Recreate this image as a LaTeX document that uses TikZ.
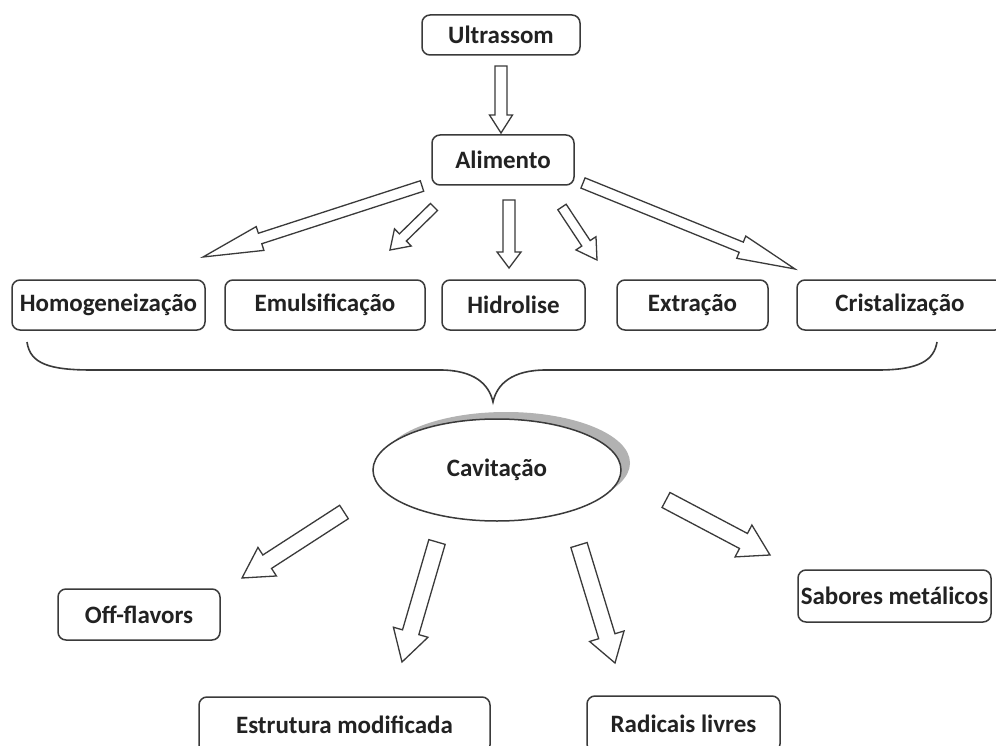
\documentclass[tikz,border=0pt]{standalone}
\usepackage{fontspec}
\setmainfont{Carlito}
\usetikzlibrary{calc,shadows,shapes.geometric}

\definecolor{ink}{HTML}{222222}
\definecolor{edge}{HTML}{3A3A3A}

\tikzset{
  % rounded label box
  tag/.style={draw=edge, line width=1.5pt, rounded corners=8pt, fill=white,
    text=ink, font=\fontsize{25}{30}\selectfont\bfseries, inner sep=0pt,
    minimum width=#1},
  % hollow block arrow: shaft half width / head half width / head length
  blockarrow/.style n args={3}{to path={
    ($(\tikztotarget)!#3!(\tikztostart)$) coordinate (bkH)
    ($(\tikztostart)!#1!90:(\tikztotarget)$)
    -- ($(bkH)!#1!90:(\tikztotarget)$)
    -- ($(bkH)!#2!90:(\tikztotarget)$)
    -- (\tikztotarget)
    -- ($(bkH)!#2!-90:(\tikztotarget)$)
    -- ($(bkH)!#1!-90:(\tikztotarget)$)
    -- ($(\tikztostart)!#1!-90:(\tikztotarget)$)
    -- cycle}},
  harrow/.style={draw=edge, fill=white, line width=1.3pt, line join=miter},
  bracepen/.style={draw=edge, line width=1.6pt},
}

\begin{document}
\begin{tikzpicture}[x=1pt, y=-1pt]
\clip (0,0) rectangle (996,746);
\fill[white] (0,0) rectangle (996,746);

% boxes
\node[tag=158, minimum height=40] (ultra) at (501,35) {Ultrassom};
\node[tag=142, minimum height=50] (alim) at (503,160) {Alimento};

\node[tag=193, minimum height=50] (homo)  at (108.5,305) {Homogeneização};
\node[tag=200, minimum height=50] (emul)  at (325,305)   {Emulsificação};
\node[tag=143, minimum height=50] (hidro) at (513.5,305) {Hidrolise};
\node[tag=151, minimum height=50] (extr)  at (692.5,305) {Extração};
\node[tag=206, minimum height=50] (crist) at (900,305)   {Cristalização};

\node[draw=edge, line width=1.5pt, ellipse, fill=white, inner sep=0pt,
      minimum width=248, minimum height=102, text=ink,
      font=\fontsize{25}{30}\selectfont\bfseries,
      general shadow={fill=gray!60, shadow xshift=9pt, shadow yshift=7pt}]
      (cav) at (497,470) {Cavitação};

\node[tag=162, minimum height=51] (off)  at (139,614.5) {Off-flavors};
\node[tag=291, minimum height=56] (estr) at (344.5,725) {Estrutura modificada};
\node[tag=193, minimum height=56] (rad)  at (683.5,724) {Radicais livres};
\node[tag=193, minimum height=52] (sab)  at (894.5,596) {Sabores metálicos};

% arrow ends
\coordinate (a0t) at (501,66);  \coordinate (a0h) at (501,133);
\coordinate (a1t) at (422,186); \coordinate (a1h) at (203,257);
\coordinate (a2t) at (434,207); \coordinate (a2h) at (390,250);
\coordinate (a3t) at (509,200); \coordinate (a3h) at (509,268);
\coordinate (a4t) at (562,207); \coordinate (a4h) at (597,260);
\coordinate (a5t) at (583,183); \coordinate (a5h) at (795,269);

\coordinate (b1t) at (344,512); \coordinate (b1h) at (242,578);
\coordinate (b2t) at (437,542); \coordinate (b2h) at (402,662);
\coordinate (b3t) at (579,545); \coordinate (b3h) at (615,663);
\coordinate (b4t) at (666,500); \coordinate (b4h) at (770,555);

\draw[harrow] (a0t) to[blockarrow={6pt}{11.5pt}{18pt}] (a0h);
\draw[harrow] (a1t) to[blockarrow={5.5pt}{12.5pt}{60pt}] (a1h);
\draw[harrow] (a2t) to[blockarrow={5pt}{12pt}{18pt}] (a2h);
\draw[harrow] (a3t) to[blockarrow={6pt}{12pt}{16pt}] (a3h);
\draw[harrow] (a4t) to[blockarrow={5pt}{12pt}{20pt}] (a4h);
\draw[harrow] (a5t) to[blockarrow={5.5pt}{12pt}{58pt}] (a5h);

\draw[harrow] (b1t) to[blockarrow={8pt}{17pt}{30pt}] (b1h);
\draw[harrow] (b2t) to[blockarrow={8.5pt}{18pt}{31pt}] (b2h);
\draw[harrow] (b3t) to[blockarrow={8.5pt}{18pt}{28pt}] (b3h);
\draw[harrow] (b4t) to[blockarrow={8.5pt}{18pt}{30pt}] (b4h);

% brace gathering the five processes
\coordinate (brL) at (27,342);
\coordinate (brR) at (937,342);
\coordinate (brTip) at (493,402);
\draw[bracepen] (brL) .. controls (30,364) and (50,370) .. (92,370)
  -- (440,370) .. controls (474,370) and (489,384) .. (brTip)
  .. controls (497,384) and (512,370) .. (546,370)
  -- (878,370) .. controls (920,370) and (934,360) .. (brR);
\end{tikzpicture}
\end{document}
